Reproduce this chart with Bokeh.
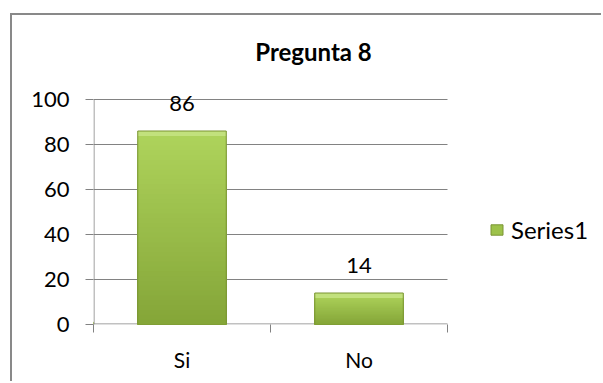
from bokeh.plotting import figure
from bokeh.models import (Range1d, FixedTicker, LinearAxis, LabelSet, Label,
                          ColumnDataSource, Legend, LegendItem)
from bokeh.core.properties import value
from bokeh.embed import file_html
from bokeh.resources import INLINE

categories = ["Si", "No"]
values = [86, 14]
y_ticks = [0, 20, 40, 60, 80, 100]
series_name = "Series1"
title_text = "Pregunta 8"

FONT = "Lato"
GRID = "#828282"

# figure sits inside a bordered box (border drawn with CSS)
W, H = 591, 368
LEFT, BOTTOM = 81, 59
PLOT_W = 354            # width of the category area in px
PX_PER_UNIT = 2.25      # vertical px per value unit
n = len(categories)
PX_PER_X = PLOT_W / n
x_end = (W - LEFT) / PX_PER_X
y_end = (H - BOTTOM) / PX_PER_UNIT

p = figure(width=W, height=H, output_backend="svg", toolbar_location=None,
           x_range=Range1d(0, x_end), y_range=Range1d(0, y_end),
           x_axis_type=None, y_axis_type=None,
           min_border_left=LEFT, min_border_right=0,
           min_border_top=0, min_border_bottom=BOTTOM,
           styles={"margin-left": "10px", "margin-top": "13px",
                   "border-left": "2px solid #898989",
                   "border-top": "2px solid #898989"})
p.outline_line_color = None
p.background_fill_color = "white"
p.border_fill_color = "white"
p.xgrid.visible = False
p.ygrid.visible = False

# axes
yaxis = LinearAxis(ticker=FixedTicker(ticks=y_ticks, minor_ticks=[]))
yaxis.axis_line_color = None
yaxis.major_tick_line_color = GRID
yaxis.major_tick_out = 8
yaxis.major_tick_in = 0
yaxis.major_label_standoff = 16
yaxis.major_label_text_font = FONT
yaxis.major_label_text_font_size = "22px"
yaxis.major_label_text_color = "black"
p.add_layout(yaxis, "left")

centers = [i + 0.5 for i in range(n)]
bounds = [float(i) for i in range(n + 1)]
xaxis = LinearAxis(ticker=FixedTicker(ticks=centers, minor_ticks=bounds))
xaxis.major_label_overrides = {c: cat for c, cat in zip(centers, categories)}
xaxis.axis_line_color = None
xaxis.major_tick_line_color = None
xaxis.major_tick_out = 0
xaxis.major_tick_in = 0
xaxis.minor_tick_line_color = GRID
xaxis.minor_tick_out = 8
xaxis.minor_tick_in = 0
xaxis.major_label_standoff = 14
xaxis.major_label_text_font = FONT
xaxis.major_label_text_font_size = "21px"
xaxis.major_label_text_color = "black"
p.add_layout(xaxis, "below")

# horizontal gridlines (and base line) across the category area only
half_px_y = 0.5 / PX_PER_UNIT
grid_y = [t if t > 0 else half_px_y for t in y_ticks]
p.segment(x0=[0] * len(grid_y), x1=[float(n)] * len(grid_y), y0=grid_y, y1=grid_y,
          line_color=GRID, line_width=1)

# vertical axis line from 0 to 100 only
half_px_x = 0.5 / PX_PER_X
p.segment(x0=[half_px_x], y0=[y_ticks[0]], x1=[half_px_x], y1=[y_ticks[-1]],
          line_color=GRID, line_width=1)

# bars with vertical gradient (overlapping layers, no seams)
def mix(c1, c2, t):
    a = [int(c1[i:i+2], 16) for i in (1, 3, 5)]
    b = [int(c2[i:i+2], 16) for i in (1, 3, 5)]
    return "#%02x%02x%02x" % tuple(round(a[k] + (b[k] - a[k]) * t) for k in range(3))

TOP, BOT = "#afd45c", "#84a538"
N = 40
xs, tops, cols = [], [], []
for c, v in zip(centers, values):
    for k in range(N - 1, -1, -1):
        xs.append(c)
        tops.append(v * (k + 1) / N)
        cols.append(mix(BOT, TOP, (k + 0.5) / N))
p.vbar(x=xs, bottom=0, top=tops, width=0.5, fill_color=cols, line_color=None)

# top bevel highlight
p.vbar(x=centers, top=values, bottom=[max(v - 2.2, 0) for v in values], width=0.5,
       fill_color="#c2e17d", line_color=None)

src = ColumnDataSource(dict(x=centers, top=values, cat=categories,
                            lab=[str(v) for v in values]))
p.vbar(x="x", top="top", bottom=0, width=0.5, source=src,
       fill_alpha=0, line_color="#7a9433", line_width=1)

labels = LabelSet(x="x", y="top", text="lab", source=src, y_offset=20,
                  text_align="center", text_baseline="alphabetic",
                  text_font=value(FONT), text_font_size=value("22px"),
                  text_color="black")
p.add_layout(labels)

# title (placed above the value area)
p.add_layout(Label(x=n / 2, x_offset=43, y=100, y_offset=48, text=title_text,
                   text_align="center", text_baseline="alphabetic",
                   text_font=FONT, text_font_size="24px", text_font_style="bold",
                   text_color="black"))

# legend
legend_bar = p.vbar(x=[-5], top=[1], width=0.1, fill_color="#9dc24a",
                    line_color="#7a9433")
leg = Legend(items=[LegendItem(label=series_name, renderers=[legend_bar])],
             location=(396, 80), border_line_alpha=0, background_fill_alpha=0,
             padding=0, margin=0, glyph_width=15, glyph_height=13,
             label_standoff=7, label_text_font=FONT, label_text_font_size="24px",
             label_text_color="black", label_text_baseline="middle")
p.add_layout(leg)

open("out.html", "w").write(file_html(p, INLINE))
